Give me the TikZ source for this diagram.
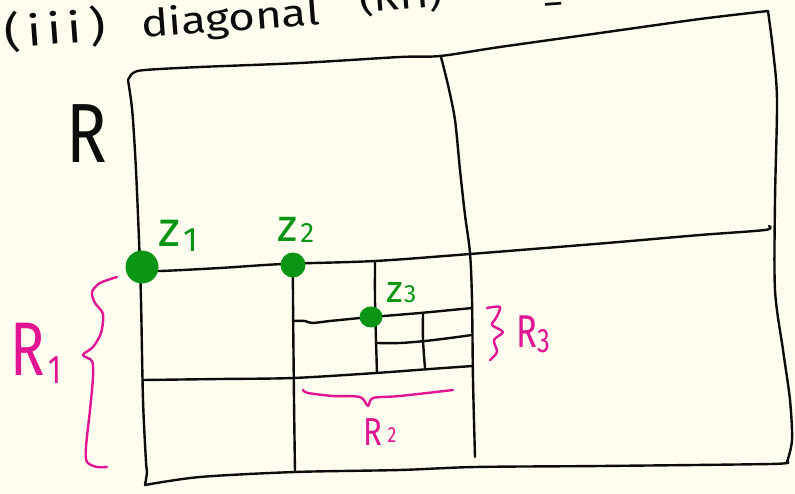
\documentclass[tikz,border=0pt]{standalone}
\usepackage{fontspec}
\setmainfont{Fira Sans}
\usetikzlibrary{shapes.geometric}
\definecolor{paper}{RGB}{254,253,240}
\definecolor{pen}{RGB}{12,12,12}
\definecolor{zgreen}{RGB}{10,150,20}
\definecolor{rmag}{RGB}{225,20,145}
\begin{document}
\begin{tikzpicture}[x=1pt,y=-1pt,
  ink/.style={line width=2.4pt,line cap=round,line join=round,draw=pen},
  bracepen/.style={line width=2.4pt,line cap=round,line join=round,draw=rmag},
  blob/.style={fill=zgreen,inner sep=0pt,draw=none},
  zlab/.style={text=zgreen,inner sep=0pt,anchor=base west},
  rlab/.style={text=rmag,inner sep=0pt,anchor=base west},
  titletext/.style={text=pen,inner sep=0pt,anchor=base west,rotate=4.3}]
\fill[paper] (0,0) rectangle (795,494);
\useasboundingbox (0,0) rectangle (795,494);
\clip (0,0) rectangle (795,494);

% title (partly cut off at the top, as in the reference)
\node[titletext,font=\fontsize{38}{42}\selectfont,xscale=1.2] (t1) at (5,48) {{\fontsize{42}{46}\selectfont(\kern6pt i\kern5pt i\kern5pt i\kern6pt)}\hspace{30pt}diagonal};
\node[titletext,font=\fontsize{36}{40}\selectfont,xscale=1.2] (t3) at (360,13) {(RH)};
\node[titletext,font=\fontsize{36}{40}\selectfont,xscale=1.2] (t4) at (543,14) {=};

% R
\node[text=pen,inner sep=0pt,anchor=base west,font=\fontsize{84}{88}\selectfont,xscale=0.8] (R) at (66,163) {R};

% outer rectangle
\draw[ink] plot[smooth,tension=0.5] coordinates {(128,80) (133,73) (145,70) (200,67) (300,63) (400,57) (440,56) (500,47) (600,33) (700,19) (768,11)};
\draw[ink] plot[smooth,tension=0.5] coordinates {(768,11) (773,50) (777,100) (775,200) (775,290) (783,350) (790,400) (792,440) (787,462)};
\draw[ink] plot[smooth,tension=0.5] coordinates {(787,462) (770,464) (600,466) (475,467) (400,470) (295,472) (200,477) (145,485)};
\draw[ink] plot[smooth,tension=0.5] coordinates {(145,485) (147,472) (146,462) (143,400) (141,300) (139,240) (136,170) (133,120) (131,100) (128,80)};

% main subdivisions
\draw[ink] plot[smooth,tension=0.5] coordinates {(441,57) (448,85) (455,120) (460,170) (465,215) (470,253) (472,300) (473,380) (475,457)};
\draw[ink] plot[smooth,tension=0.5] coordinates {(142,270) (160,271) (220,268) (283,264) (375,261) (470,254) (607,243) (700,235) (765,230) (769,226)};
\draw[ink] plot[smooth,tension=0.5] coordinates {(293,265) (293,300) (294,400) (295,472)};
\draw[ink] plot[smooth,tension=0.5] coordinates {(143,380) (220,379) (293,378) (376,373) (430,369) (473,366)};
% second level
\draw[ink] plot[smooth,tension=0.5] coordinates {(375,261) (375,300) (376,340) (377,373)};
\draw[ink] plot[smooth,tension=0.5] coordinates {(293,321) (305,321) (312,323) (330,321) (360,318) (371,317) (420,313) (472,308)};
% third level
\draw[ink] plot[smooth,tension=0.5] coordinates {(423,313) (423,340) (425,368)};
\draw[ink] plot[smooth,tension=0.5] coordinates {(376,343) (400,343) (425,341) (450,338) (472,335)};

% points
\node[blob,circle,minimum size=33pt] (z1) at (142,267) {};
\node[blob,circle,minimum size=25pt] (z2) at (293,265) {};
\node[blob,ellipse,minimum width=23pt,minimum height=21pt] (z3) at (371,317) {};

\node[zlab,font=\fontsize{50}{54}\selectfont] (lz1) at (158,247) {z\kern3pt\raisebox{-5pt}{\fontsize{34}{34}\selectfont 1}};
\node[zlab,font=\fontsize{46}{50}\selectfont] (lz2) at (277,242) {z\kern3pt\raisebox{-1pt}{\fontsize{28}{28}\selectfont 2}};
\node[zlab,font=\fontsize{38}{42}\selectfont] (lz3) at (386,302) {z\kern1pt{\fontsize{25}{25}\selectfont 3}};

% braces
\draw[bracepen] plot[smooth,tension=0.5] coordinates {(117,277) (100,283) (92,292) (95,303) (103,314) (101,333) (93,347) (83,355) (92,361) (93,377) (90,410) (86,447) (87,462) (97,467) (107,467)};
\draw[bracepen] plot[smooth,tension=0.5] coordinates {(303,390) (308,393) (333,396) (360,397) (368,406) (373,398) (400,396) (453,390)};
\draw[bracepen] plot[smooth,tension=0.5] coordinates {(487,308) (500,307) (496,318) (492,325) (503,332) (494,340) (497,352) (490,360)};

% region labels
\node[rlab,font=\fontsize{76}{80}\selectfont,xscale=0.75] (R1) at (10,375) {R\kern5pt\raisebox{-8pt}{\fontsize{40}{40}\selectfont 1}};
\node[rlab,font=\fontsize{39}{42}\selectfont,xscale=0.8] (R2) at (363,445) {R\kern7pt\raisebox{3pt}{\fontsize{22}{22}\selectfont 2}};
\node[rlab,font=\fontsize{46}{50}\selectfont,xscale=0.75] (R3) at (516,347) {R\kern1pt\raisebox{-5pt}{\fontsize{34}{34}\selectfont 3}};
\end{tikzpicture}
\end{document}
